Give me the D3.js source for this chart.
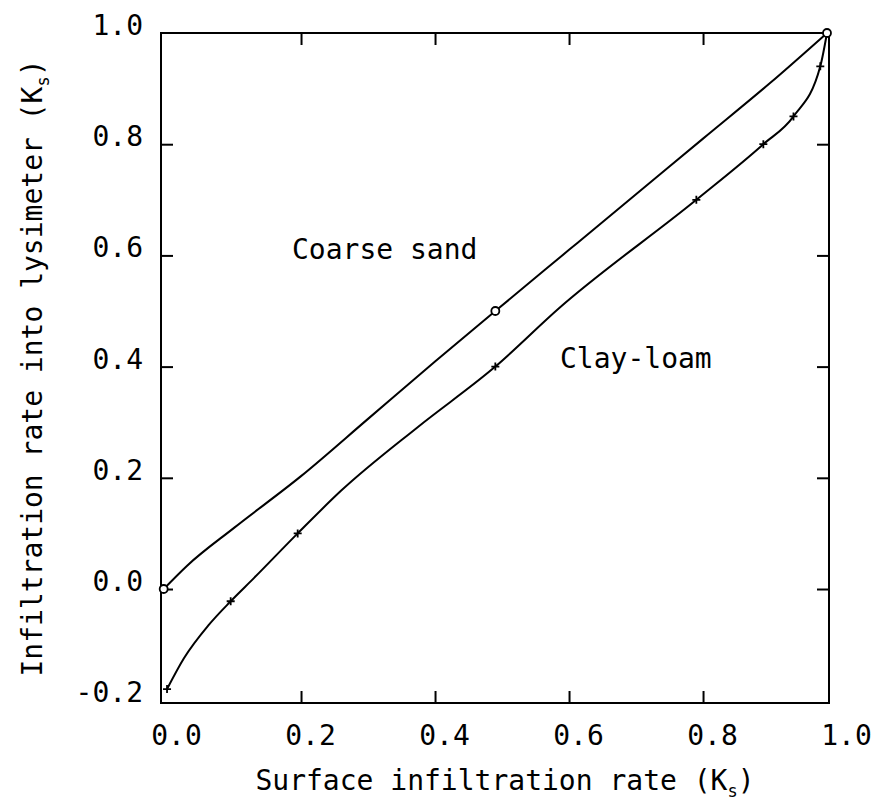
<!DOCTYPE html>
<html>
<head>
<meta charset="utf-8">
<script src="https://cdn.jsdelivr.net/npm/d3@7/dist/d3.min.js"></script>
<style>
  body { margin: 0; background: #fff; }
  text { font-family: "DejaVu Sans Mono", "Liberation Mono", monospace; fill: #000; }
</style>
</head>
<body>
<div id="chart"></div>
<script>
// tick labels
const xTickVals = [0, 0.2, 0.4, 0.6, 0.8, 1.0];
const yTickVals = [-0.2, 0, 0.2, 0.4, 0.6, 0.8, 1.0];

// Coarse sand curve and its circled points
const sandX = [-0.005, 0.03, 0.1, 0.2, 0.3, 0.4, 0.49, 0.6, 0.7, 0.8, 0.9, 0.985];
const sandY = [0, 0.042, 0.11, 0.203, 0.306, 0.409, 0.5, 0.61, 0.71, 0.81, 0.91, 1.0];
const sandMarkX = [-0.005, 0.49, 0.985];
const sandMarkY = [0, 0.5, 1.0];

// Clay-loam curve and its + points
const clayX = [0.0, 0.025, 0.062, 0.095, 0.13, 0.195, 0.26, 0.375, 0.49, 0.585, 0.79, 0.89, 0.935, 0.975, 0.985];
const clayY = [-0.18, -0.125, -0.065, -0.022, 0.02, 0.1, 0.177, 0.292, 0.4, 0.505, 0.7, 0.8, 0.85, 0.94, 1.0];
const clayMarkX = [0.0, 0.095, 0.195, 0.49, 0.79, 0.89, 0.935, 0.975];
const clayMarkY = [-0.18, -0.022, 0.1, 0.4, 0.7, 0.8, 0.85, 0.94];

const width = 875;
const height = 801;
const plotLeft = 161, plotRight = 829, plotTop = 33, plotBottom = 703;

const svg = d3.select('#chart').append('svg')
  .attr('width', width)
  .attr('height', height);

const x = d3.scaleLinear().domain([-0.009, 0.988]).range([plotLeft, plotRight]);
const y = d3.scaleLinear().domain([-0.205, 1.0]).range([plotBottom, plotTop]);

const fmt = d => d.toFixed(1);

// frame
svg.append('rect')
  .attr('x', plotLeft).attr('y', plotTop)
  .attr('width', plotRight - plotLeft).attr('height', plotBottom - plotTop)
  .attr('fill', 'none').attr('stroke', '#000').attr('stroke-width', 2);

// inward tick marks on all four sides
const xInner = xTickVals.filter(v => v > 0.05 && v < 0.95);
const yInner = yTickVals.filter(v => v > -0.15 && v < 0.95);

function tickMarks(g) {
  g.select('.domain').remove();
  g.selectAll('text').remove();
  g.selectAll('line').attr('stroke', '#000').attr('stroke-width', 2);
}

svg.append('g').attr('transform', `translate(0,${plotBottom})`)
  .call(d3.axisBottom(x).tickValues(xInner).tickSizeInner(-12).tickSizeOuter(0))
  .call(tickMarks);
svg.append('g').attr('transform', `translate(0,${plotTop})`)
  .call(d3.axisTop(x).tickValues(xInner).tickSizeInner(-12).tickSizeOuter(0))
  .call(tickMarks);
svg.append('g').attr('transform', `translate(${plotLeft},0)`)
  .call(d3.axisLeft(y).tickValues(yInner).tickSizeInner(-12).tickSizeOuter(0))
  .call(tickMarks);
svg.append('g').attr('transform', `translate(${plotRight},0)`)
  .call(d3.axisRight(y).tickValues(yInner).tickSizeInner(-12).tickSizeOuter(0))
  .call(tickMarks);

// tick labels
const xLab = svg.append('g').attr('transform', `translate(0,${plotBottom})`)
  .call(d3.axisBottom(x).tickValues(xTickVals).tickFormat(fmt).tickSize(0).tickPadding(22));
xLab.select('.domain').remove();
xLab.selectAll('text')
  .attr('x', 9).attr('dy', '0.71em')
  .style('font-size', '28px').style('font-family', '"DejaVu Sans Mono", monospace');

const yLab = svg.append('g').attr('transform', `translate(${plotLeft},0)`)
  .call(d3.axisLeft(y).tickValues(yTickVals).tickFormat(fmt).tickSize(0).tickPadding(18));
yLab.select('.domain').remove();
yLab.selectAll('text')
  .attr('dy', '0.05em')
  .style('font-size', '28px').style('font-family', '"DejaVu Sans Mono", monospace');

// curves
const line = d3.line()
  .x(d => x(d[0]))
  .y(d => y(d[1]))
  .curve(d3.curveMonotoneX);

const sand = sandX.map((v, i) => [v, sandY[i]]);
const clay = clayX.map((v, i) => [v, clayY[i]]);

svg.append('path').datum(sand)
  .attr('d', line).attr('fill', 'none')
  .attr('stroke', '#000').attr('stroke-width', 2);
svg.append('path').datum(clay)
  .attr('d', line).attr('fill', 'none')
  .attr('stroke', '#000').attr('stroke-width', 2);

// markers
svg.append('g').selectAll('circle')
  .data(sandMarkX.map((v, i) => [v, sandMarkY[i]]))
  .join('circle')
  .attr('cx', d => x(d[0])).attr('cy', d => y(d[1]))
  .attr('r', 4)
  .attr('fill', '#fff').attr('stroke', '#000').attr('stroke-width', 1.8);

svg.append('g').selectAll('path')
  .data(clayMarkX.map((v, i) => [v, clayMarkY[i]]))
  .join('path')
  .attr('transform', d => `translate(${x(d[0])},${y(d[1])})`)
  .attr('d', 'M-4,0H4M0,-4V4')
  .attr('stroke', '#000').attr('stroke-width', 1.8).attr('fill', 'none');

// curve labels
svg.append('text').attr('x', 292).attr('y', 259)
  .style('font-size', '28px').text('Coarse sand');
svg.append('text').attr('x', 560).attr('y', 368)
  .style('font-size', '28px').text('Clay-loam');

// axis titles
const xTitle = svg.append('text')
  .attr('x', 505).attr('y', 790)
  .attr('text-anchor', 'middle')
  .style('font-size', '28px');
xTitle.append('tspan').text('Surface infiltration rate (K');
xTitle.append('tspan').attr('dy', 7).style('font-size', '17px').text('s');
xTitle.append('tspan').attr('dy', -7).text(')');

const yTitle = svg.append('text')
  .attr('transform', `translate(42,${(plotTop + plotBottom) / 2}) rotate(-90)`)
  .attr('text-anchor', 'middle')
  .style('font-size', '28px');
yTitle.append('tspan').text('Infiltration rate into lysimeter (K');
yTitle.append('tspan').attr('dy', 7).style('font-size', '17px').text('s');
yTitle.append('tspan').attr('dy', -7).text(')');
</script>
</body>
</html>
